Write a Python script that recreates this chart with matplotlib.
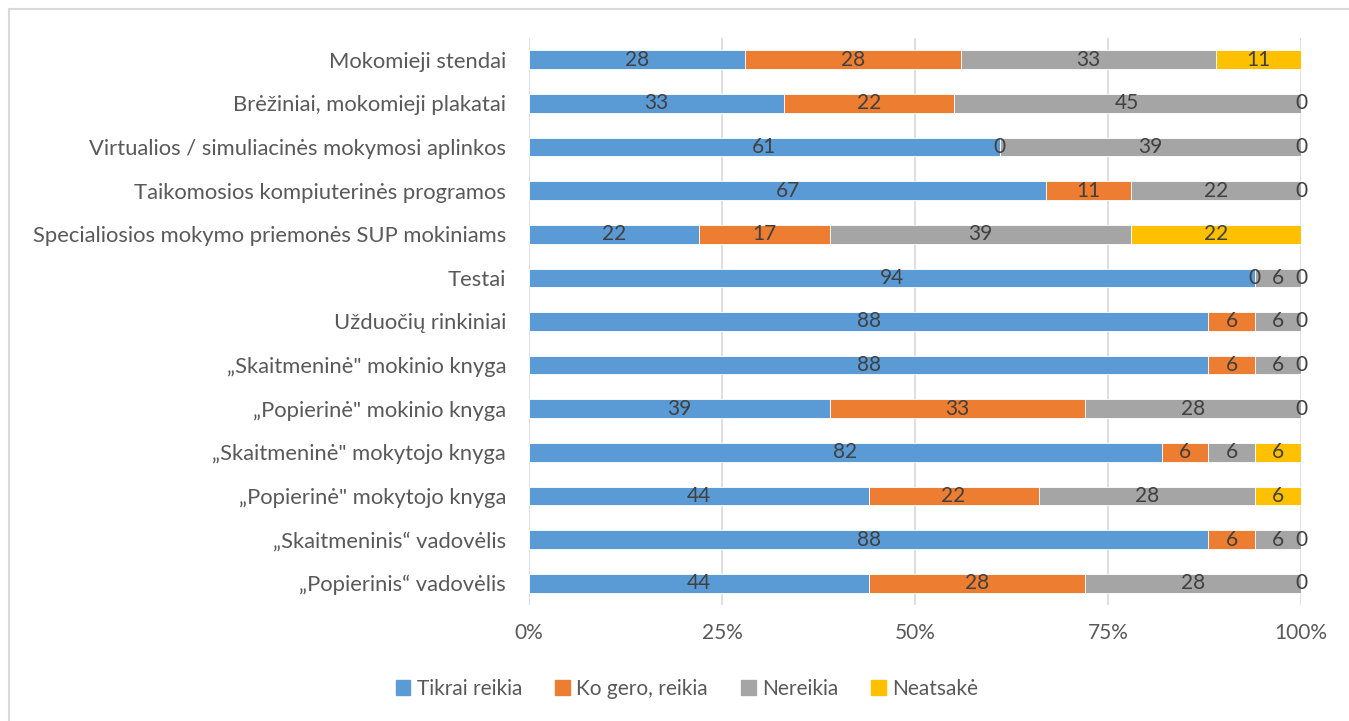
import matplotlib.pyplot as plt
from matplotlib.lines import Line2D
import numpy as np

plt.rcParams['font.family'] = ['Lato', 'DejaVu Sans']

# bottom to top
categories = [
    '„Popierinis“ vadovėlis',
    '„Skaitmeninis“ vadovėlis',
    '„Popierinė" mokytojo knyga',
    '„Skaitmeninė" mokytojo knyga',
    '„Popierinė" mokinio knyga',
    '„Skaitmeninė" mokinio knyga',
    'Užduočių rinkiniai',
    'Testai',
    'Specialiosios mokymo priemonės SUP mokiniams',
    'Taikomosios kompiuterinės programos',
    'Virtualios / simuliacinės mokymosi aplinkos',
    'Brėžiniai, mokomieji plakatai',
    'Mokomieji stendai',
]
tikrai = [44, 88, 44, 82, 39, 88, 88, 94, 22, 67, 61, 33, 28]
ko_gero = [28, 6, 22, 6, 33, 6, 6, 0, 17, 11, 0, 22, 28]
nereikia = [28, 6, 28, 6, 28, 6, 6, 6, 39, 22, 39, 45, 33]
neatsake = [0, 0, 6, 6, 0, 0, 0, 0, 22, 0, 0, 0, 11]

series = [tikrai, ko_gero, nereikia, neatsake]
names = ['Tikrai reikia', 'Ko gero, reikia', 'Nereikia', 'Neatsakė']
colors = ['#5B9BD5', '#ED7D31', '#A5A5A5', '#FFC000']
txt = '#595959'

fig = plt.figure(figsize=(13.49, 7.21), dpi=100)
ax = fig.add_axes([529 / 1349, 1 - 605 / 721, 772 / 1349, 567 / 721])

y = np.arange(len(categories))
left = np.zeros(len(categories))
for vals, name, col in zip(series, names, colors):
    vals = np.array(vals, dtype=float)
    ax.barh(y, vals, left=left, height=0.43, color=col, edgecolor='white',
            linewidth=0.6, label=name, zorder=2)
    for yi, (l, v) in enumerate(zip(left, vals)):
        ax.text(l + v / 2, yi, f'{int(v)}', ha='center', va='center',
                fontsize=15, color='#404040', zorder=3)
    left += vals

ax.set_xlim(0, 100)
ax.set_ylim(-0.5, len(categories) - 0.5)
ax.set_xticks([0, 25, 50, 75, 100])
ax.set_xticklabels(['0%', '25%', '50%', '75%', '100%'])
ax.set_yticks(y)
ax.set_yticklabels(categories)
ax.tick_params(axis='x', length=0, labelsize=15, colors=txt, pad=13)
ax.tick_params(axis='y', length=0, labelsize=15.8, colors=txt, pad=16.5)
ax.xaxis.grid(True, color='#D9D9D9', linewidth=1.2, zorder=0)
ax.set_axisbelow(True)
for s in ax.spines.values():
    s.set_visible(False)

handles = [plt.Rectangle((0, 0), 1, 1, color=c) for c in colors]
fig.legend(handles, names, loc='center', bbox_to_anchor=(687 / 1349, 1 - 689 / 721),
           ncol=4, frameon=False, fontsize=15, labelcolor=txt,
           handlelength=0.7, handleheight=0.7, handletextpad=0.3,
           columnspacing=1.6)

# chart frame (left and top edges visible)
fig.add_artist(Line2D([8.5 / 1349, 8.5 / 1349], [0, 1 - 9 / 721],
                      transform=fig.transFigure, color='#D9D9D9', linewidth=1.5))
fig.add_artist(Line2D([8.5 / 1349, 1], [1 - 9 / 721, 1 - 9 / 721],
                      transform=fig.transFigure, color='#D9D9D9', linewidth=1.5))

fig.savefig('out.png', dpi=100)
